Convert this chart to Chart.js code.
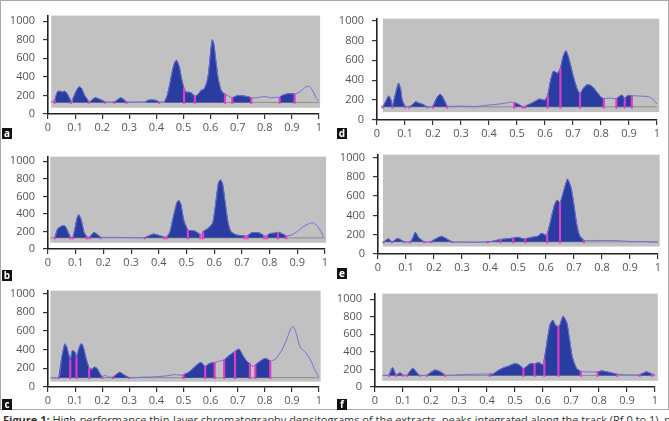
<!DOCTYPE html>
<html lang="en">
<head>
<meta charset="UTF-8">
<title>HPTLC densitograms</title>
<script src="https://cdn.jsdelivr.net/npm/chart.js@4.4.1/dist/chart.umd.min.js"></script>
<style>
  body { margin: 0; width: 669px; height: 421px; overflow: hidden; background: #fff; position: relative; font-family: "Open Sans", sans-serif; }
  #frame { position: absolute; left: 0; top: 0; width: 667px; height: 408px; border: 1px solid #a9a9a9; }
  .panel { position: absolute; }
  .tag { position: absolute; width: 10px; height: 11px; background: #111; color: #fff; font: bold 10px "Open Sans", sans-serif; line-height: 11px; text-align: center; }
  .cap { position: absolute; left: 3px; top: 413px; margin: 0; font-size: 11px; line-height: 14px; color: #333; white-space: nowrap; }
</style>
</head>
<body>
<div id="frame"></div>
<p class="cap"><b>Figure 1:</b> High-performance thin-layer chromatography densitograms of the extracts, peaks integrated along the track (Rf 0 to 1), panels (a) to (f)</p>

<script>
// traces: [Rf, AU]
const aTrace = [[0.012,140],[0.02,130],[0.025,150],[0.035,240],[0.045,245],[0.052,235],[0.06,245],[0.068,230],[0.075,195],[0.085,140],[0.09,150],[0.1,220],[0.11,280],[0.117,293],[0.125,270],[0.135,200],[0.15,140],[0.155,130],[0.165,160],[0.175,175],[0.19,160],[0.21,133],[0.22,130],[0.245,130],[0.26,160],[0.268,175],[0.28,155],[0.29,130],[0.32,130],[0.36,132],[0.37,148],[0.385,152],[0.4,145],[0.41,130],[0.43,135],[0.44,200],[0.45,330],[0.46,480],[0.468,560],[0.475,578],[0.485,500],[0.493,380],[0.502,275],[0.51,235],[0.52,235],[0.53,225],[0.542,190],[0.555,215],[0.565,255],[0.575,265],[0.585,330],[0.592,430],[0.6,660],[0.606,800],[0.612,750],[0.62,560],[0.628,380],[0.638,260],[0.645,230],[0.653,215],[0.665,195],[0.68,175],[0.7,200],[0.72,195],[0.74,185],[0.75,175],[0.77,175],[0.79,185],[0.8,190],[0.82,175],[0.84,180],[0.855,180],[0.86,195],[0.875,210],[0.89,220],[0.91,215],[0.93,240],[0.95,290],[0.963,300],[0.975,260],[0.99,170],[1.0,135]];
const aPeaks = [[0.025,0.085],[0.09,0.15],[0.155,0.21],[0.245,0.29],[0.36,0.41],[0.43,0.653],[0.68,0.75],[0.855,0.91]];
const aCuts = [0.025,0.085,0.15,0.21,0.245,0.29,0.41,0.502,0.542,0.653,0.68,0.75,0.855,0.91];
const aBase = 125, aBoxLow = 67;

const bTrace = [[0.02,130],[0.025,135],[0.035,230],[0.045,253],[0.054,268],[0.062,262],[0.07,210],[0.08,140],[0.09,135],[0.095,200],[0.105,350],[0.111,390],[0.12,330],[0.13,190],[0.14,140],[0.15,135],[0.158,165],[0.166,188],[0.178,165],[0.19,135],[0.22,133],[0.26,132],[0.3,130],[0.35,130],[0.37,158],[0.38,170],[0.395,160],[0.42,135],[0.43,140],[0.44,190],[0.45,330],[0.465,525],[0.472,555],[0.48,505],[0.49,330],[0.505,215],[0.515,210],[0.53,205],[0.55,165],[0.56,200],[0.58,240],[0.595,300],[0.605,510],[0.615,745],[0.622,790],[0.63,745],[0.64,520],[0.65,300],[0.66,200],[0.68,160],[0.71,150],[0.72,150],[0.735,185],[0.75,188],[0.765,180],[0.78,150],[0.79,150],[0.8,175],[0.815,180],[0.83,190],[0.845,175],[0.86,150],[0.88,160],[0.9,200],[0.92,250],[0.94,285],[0.955,300],[0.97,270],[0.985,200],[0.995,135]];
const bPeaks = [[0.025,0.08],[0.09,0.14],[0.15,0.19],[0.35,0.42],[0.43,0.55],[0.56,0.71],[0.72,0.78],[0.79,0.86]];
const bCuts = [0.025,0.08,0.09,0.14,0.15,0.19,0.35,0.42,0.43,0.505,0.55,0.56,0.71,0.72,0.78,0.79,0.83,0.86];
const bBase = 127, bBoxLow = 71;

const cTrace = [[0.01,100],[0.04,100],[0.05,300],[0.062,460],[0.07,420],[0.082,290],[0.09,390],[0.1,370],[0.105,320],[0.115,420],[0.123,465],[0.13,430],[0.14,310],[0.152,200],[0.162,190],[0.172,213],[0.182,195],[0.19,150],[0.2,110],[0.21,125],[0.22,110],[0.24,105],[0.255,140],[0.265,157],[0.28,130],[0.3,100],[0.35,105],[0.4,110],[0.44,120],[0.47,133],[0.49,125],[0.5,130],[0.52,160],[0.54,210],[0.555,250],[0.565,262],[0.58,220],[0.595,250],[0.61,260],[0.615,262],[0.63,275],[0.65,290],[0.67,340],[0.69,380],[0.705,405],[0.72,330],[0.735,270],[0.745,250],[0.755,220],[0.765,235],[0.78,270],[0.8,305],[0.815,290],[0.82,275],[0.84,300],[0.86,380],[0.88,500],[0.895,620],[0.905,645],[0.915,580],[0.93,430],[0.95,370],[0.97,280],[0.985,180],[1.0,105]];
const cPeaks = [[0.04,0.2],[0.24,0.3],[0.5,0.615],[0.65,0.745],[0.765,0.82]];
const cCuts = [0.04,0.082,0.105,0.152,0.2,0.24,0.3,0.5,0.58,0.615,0.65,0.69,0.745,0.765,0.82];
const cBase = 100, cBoxLow = 57;

const dTrace = [[0.015,150],[0.02,130],[0.03,180],[0.042,242],[0.05,200],[0.055,140],[0.065,250],[0.077,370],[0.085,300],[0.09,200],[0.1,140],[0.115,135],[0.125,150],[0.137,182],[0.15,170],[0.165,155],[0.18,130],[0.2,140],[0.215,230],[0.227,258],[0.24,200],[0.25,140],[0.3,140],[0.35,135],[0.4,150],[0.45,165],[0.48,180],[0.49,175],[0.5,165],[0.51,150],[0.52,135],[0.53,140],[0.56,180],[0.58,210],[0.6,200],[0.61,250],[0.62,400],[0.63,490],[0.645,470],[0.655,520],[0.665,640],[0.675,695],[0.685,620],[0.7,450],[0.715,310],[0.725,265],[0.735,310],[0.75,355],[0.765,345],[0.78,300],[0.8,230],[0.81,215],[0.83,220],[0.855,215],[0.865,235],[0.875,250],[0.885,215],[0.895,245],[0.91,245],[0.94,240],[0.97,235],[0.985,210],[1.0,160]];
const dPeaks = [[0.02,0.1],[0.115,0.18],[0.2,0.25],[0.49,0.52],[0.53,0.81],[0.855,0.91]];
const dCuts = [0.02,0.055,0.1,0.115,0.18,0.2,0.25,0.49,0.52,0.53,0.61,0.655,0.725,0.81,0.855,0.885,0.91];
const dBase = 132, dBoxLow = 79;

const eTrace = [[0.015,120],[0.02,125],[0.03,145],[0.038,157],[0.05,120],[0.06,145],[0.071,160],[0.085,140],[0.095,125],[0.115,125],[0.125,170],[0.133,226],[0.145,170],[0.165,125],[0.19,130],[0.2,147],[0.215,170],[0.226,183],[0.24,165],[0.265,125],[0.3,122],[0.35,120],[0.39,125],[0.41,132],[0.437,150],[0.46,157],[0.483,165],[0.5,173],[0.515,160],[0.526,158],[0.55,173],[0.57,183],[0.585,215],[0.597,195],[0.604,205],[0.615,324],[0.63,505],[0.64,560],[0.65,528],[0.665,670],[0.677,775],[0.69,680],[0.7,500],[0.71,303],[0.72,189],[0.735,142],[0.76,140],[0.8,140],[0.85,138],[0.9,130],[0.95,128],[1.0,122]];
const ePeaks = [[0.02,0.095],[0.115,0.165],[0.19,0.265],[0.39,0.735]];
const eCuts = [0.02,0.05,0.095,0.115,0.165,0.19,0.265,0.39,0.437,0.483,0.526,0.604,0.65,0.735];
const eBase = 126, eBoxLow = 77;

const fTrace = [[0.03,135],[0.05,136],[0.063,221],[0.075,136],[0.089,160],[0.1,136],[0.115,136],[0.135,214],[0.15,160],[0.16,132],[0.185,135],[0.214,193],[0.235,170],[0.25,135],[0.3,140],[0.35,145],[0.41,148],[0.42,146],[0.44,188],[0.46,220],[0.48,241],[0.5,267],[0.515,252],[0.53,210],[0.54,230],[0.555,267],[0.57,262],[0.585,278],[0.6,252],[0.605,315],[0.615,526],[0.625,710],[0.635,762],[0.645,700],[0.655,690],[0.66,705],[0.672,805],[0.685,730],[0.695,536],[0.705,336],[0.72,210],[0.735,178],[0.76,172],[0.795,172],[0.81,183],[0.83,172],[0.865,146],[0.9,140],[0.945,140],[0.97,172],[0.99,146],[1.0,140]];
const fPeaks = [[0.05,0.1],[0.115,0.16],[0.185,0.25],[0.41,0.735],[0.795,0.865],[0.945,0.99]];
const fCuts = [0.05,0.075,0.1,0.115,0.16,0.185,0.25,0.41,0.53,0.57,0.605,0.655,0.735,0.795,0.865,0.945,0.99];
const fBase = 132, fBoxLow = 71;

const xTicks = [0, 0.1, 0.2, 0.3, 0.4, 0.5, 0.6, 0.7, 0.8, 0.9, 1];
const yTicks = [0, 200, 400, 600, 800, 1000];

// where each panel sits on the page (plot area edges, y pixel of 1000)
const panels = [
  { tag: 'a', trace: aTrace, peaks: aPeaks, cuts: aCuts, base: aBase, low: aBoxLow, bx: [0.012, 1.004], g: { l: 48, r: 319, t: 9, b: 114, y1000: 15 }, tp: [2, 128] },
  { tag: 'b', trace: bTrace, peaks: bPeaks, cuts: bCuts, base: bBase, low: bBoxLow, bx: [0.008, 1.004], g: { l: 48, r: 325, t: 150, b: 249, y1000: 155 }, tp: [2, 270] },
  { tag: 'c', trace: cTrace, peaks: cPeaks, cuts: cCuts, base: cBase, low: cBoxLow, bx: [0.009, 1.006], g: { l: 48, r: 319, t: 284, b: 387, y1000: 287 }, tp: [2, 399] },
  { tag: 'd', trace: dTrace, peaks: dPeaks, cuts: dCuts, base: dBase, low: dBoxLow, bx: [0.021, 1.008], g: { l: 377, r: 657, t: 12, b: 120, y1000: 14 }, tp: [337, 128] },
  { tag: 'e', trace: eTrace, peaks: ePeaks, cuts: eCuts, base: eBase, low: eBoxLow, bx: [0.018, 1.006], g: { l: 378, r: 658, t: 148, b: 254, y1000: 151 }, tp: [337, 268] },
  { tag: 'f', trace: fTrace, peaks: fPeaks, cuts: fCuts, base: fBase, low: fBoxLow, bx: [0.026, 1.01], g: { l: 375, r: 655, t: 287, b: 387, y1000: 293 }, tp: [337, 399] }
];

const padL = 46, padR = 12, padT = 8, padB = 22;

function makePanel(p) {
    const g = p.g;
    const wrap = document.createElement('div');
    wrap.className = 'panel';
    wrap.style.left = (g.l - padL) + 'px';
    wrap.style.top = (g.t - padT) + 'px';
    const cv = document.createElement('canvas');
    cv.width = g.r - g.l + padL + padR;
    cv.height = g.b - g.t + padT + padB;
    cv.style.width = cv.width + 'px';
    cv.style.height = cv.height + 'px';
    wrap.appendChild(cv);
    document.body.appendChild(wrap);

    const tag = document.createElement('div');
    tag.className = 'tag';
    tag.textContent = p.tag;
    tag.style.left = p.tp[0] + 'px';
    tag.style.top = p.tp[1] + 'px';
    document.body.appendChild(tag);

    const ymax = (g.b - g.t) / (g.b - g.y1000) * 1000;

    const traceData = p.trace.map(d => ({ x: d[0], y: d[1] }));

    // one filled dataset per integrated peak range
    const peakSets = p.peaks.map(r => ({
        type: 'line',
        data: p.trace.filter(d => d[0] >= r[0] - 1e-9 && d[0] <= r[1] + 1e-9).map(d => ({ x: d[0], y: d[1] })),
        borderColor: '#24389c', borderWidth: 1, backgroundColor: '#283d9f',
        pointRadius: 0, tension: 0.2, fill: { value: p.base }, order: 2
    }));

    // integration cuts as thin floating bars from just under the baseline to the trace
    const cutData = [];
    p.cuts.forEach(c => {
        const hit = p.trace.find(d => Math.abs(d[0] - c) < 1e-9);
        if (hit) cutData.push({ x: c, y: [p.base - 12, hit[1]] });
    });

    const grayBox = {
        id: 'grayBox',
        beforeDatasetsDraw(chart) {
            const { ctx, chartArea, scales } = chart;
            const x0 = scales.x.getPixelForValue(p.bx[0]);
            const x1 = scales.x.getPixelForValue(p.bx[1]);
            const y0 = scales.y.getPixelForValue(p.low);
            ctx.save();
            ctx.fillStyle = '#c1c1c1';
            ctx.fillRect(x0, chartArea.top, x1 - x0, y0 - chartArea.top);
            ctx.restore();
        }
    };

    new Chart(cv.getContext('2d'), {
        data: {
            datasets: [
                { type: 'bar', data: cutData, backgroundColor: '#e03cc8', borderWidth: 0, barThickness: 1.5, grouped: false, order: 0 },
                { type: 'line', data: traceData, borderColor: '#6d72d9', borderWidth: 1, pointRadius: 0, tension: 0.2, fill: false, order: 1 },
                ...peakSets,
                { type: 'line', data: [{ x: p.bx[0], y: p.base }, { x: 1, y: p.base }], borderColor: '#8c8c8c', borderWidth: 1, pointRadius: 0, fill: false, order: 3 }
            ]
        },
        options: {
            responsive: false,
            animation: false,
            devicePixelRatio: 1,
            layout: { padding: { left: 0, top: padT, right: padR, bottom: 0 } },
            plugins: { legend: { display: false }, tooltip: { enabled: false } },
            scales: {
                x: {
                    type: 'linear', min: 0, max: 1, offset: false,
                    afterFit: s => { s.height = padB; },
                    afterBuildTicks: s => { s.ticks = xTicks.map(v => ({ value: v })); },
                    border: { color: '#222', width: 1.6 },
                    grid: { drawOnChartArea: false, drawTicks: true, tickLength: 5, color: '#333', lineWidth: 1.2, offset: false },
                    ticks: { color: '#555', padding: 2, font: { family: 'Open Sans', size: 11 }, callback: v => String(+v.toFixed(1)) }
                },
                y: {
                    type: 'linear', min: 0, max: ymax,
                    afterFit: s => { s.width = padL; },
                    afterBuildTicks: s => { s.ticks = yTicks.map(v => ({ value: v })); },
                    border: { color: '#222', width: 1.6 },
                    grid: { drawOnChartArea: false, drawTicks: true, tickLength: 5, color: '#333', lineWidth: 1.2 },
                    ticks: { color: '#555', padding: 8, font: { family: 'Open Sans', size: 11 }, callback: v => String(v) }
                }
            }
        },
        plugins: [grayBox]
    });
}

panels.forEach(makePanel);
</script>
</body>
</html>
